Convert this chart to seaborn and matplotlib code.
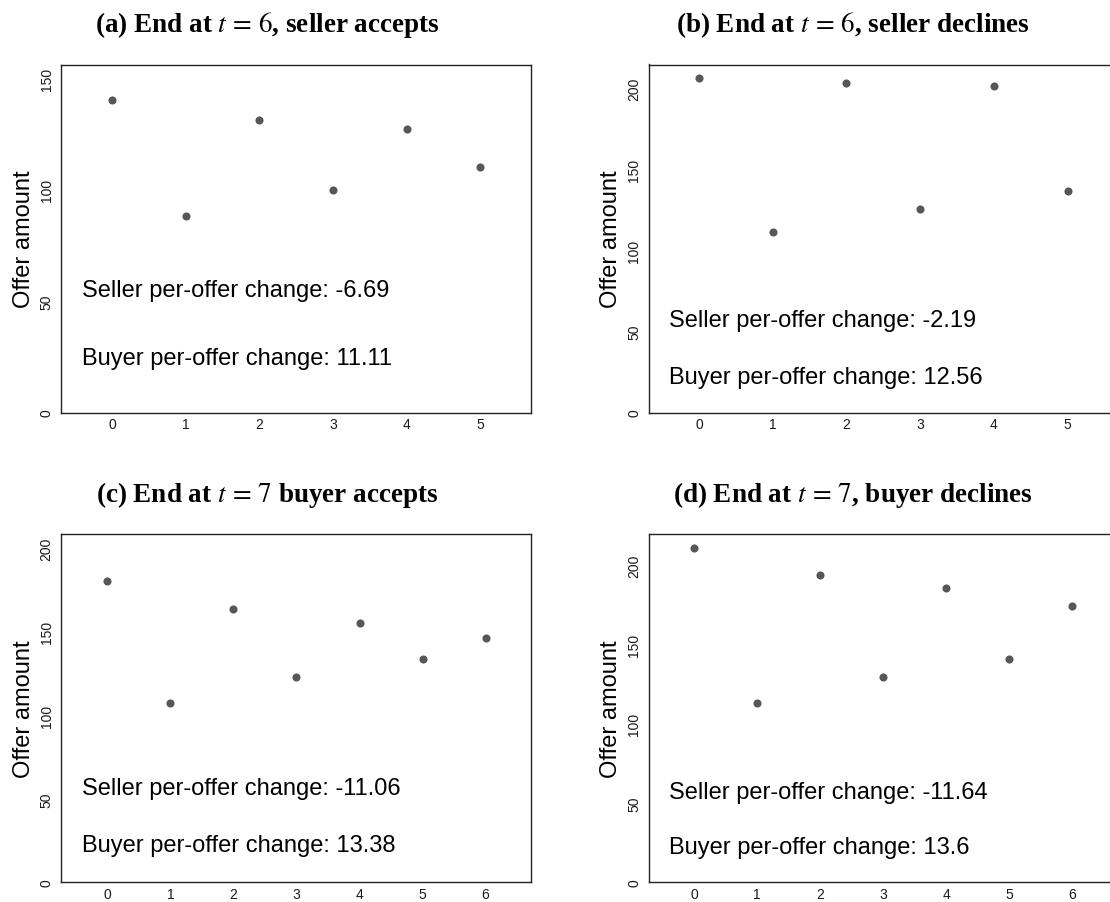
import numpy as np
import pandas as pd
import seaborn as sns
import matplotlib.pyplot as plt

sns.set_style('white')
plt.rcParams['font.family'] = ['Liberation Sans', 'DejaVu Sans']
plt.rcParams['mathtext.fontset'] = 'stix'
plt.rcParams['text.color'] = 'black'
plt.rcParams['axes.labelcolor'] = 'black'

# offer amounts (offer index 0..n-1)
offers_a = [140.4, 88.0, 131.4, 99.9, 127.1, 110.2]
offers_b = [206.0, 111.3, 203.3, 125.3, 201.6, 136.3]
offers_c = [180.2, 107.2, 163.5, 122.8, 155.3, 133.9, 146.1]
offers_d = [210.7, 113.4, 193.7, 129.5, 185.7, 140.7, 174.6]

titles = [r'(a) End at $t\,=\,6$, seller accepts',
          r'(b) End at $t\,=\,6$, seller declines',
          r'(c) End at $t\,=\,7$ buyer accepts',
          r'(d) End at $t\,=\,7$, buyer declines']
seller_change = ['-6.69', '-2.19', '-11.06', '-11.64']
buyer_change = ['11.11', '12.56', '13.38', '13.6']

# layout (pixels)
W, H = 1110, 903
ax_w, ax_h = 469.7, 348
lefts = [61.3, 648.8, 61.3, 648.8]
tops = [65.5, 65.5, 535.3, 535.3]
title_x = [267, 853, 267, 853]
title_base = [31.7, 31.7, 501.7, 501.7]
ymax = [156.2, 214.6, 208.4, 219.6]
xlims = [(-0.69, 5.69), (-0.68, 5.69), (-0.73, 6.72), (-0.72, 6.73)]
seller_y = [55, 57.3, 56.3, 56.8]
buyer_y = [24.5, 22, 22.4, 22]

fig = plt.figure(figsize=(W / 100, H / 100), dpi=100)

for i, vals in enumerate([offers_a, offers_b, offers_c, offers_d]):
    ax = fig.add_axes([lefts[i] / W, 1 - (tops[i] + ax_h) / H, ax_w / W, ax_h / H])
    df = pd.DataFrame({'offer': np.arange(len(vals)), 'amount': vals})
    sns.scatterplot(data=df, x='offer', y='amount', ax=ax, color='#575757',
                    s=34, linewidth=0)
    ax.set_xlim(*xlims[i])
    ax.set_ylim(0, ymax[i])
    ax.set_xticks(range(len(vals)))
    yt = [0, 50, 100, 150] if ymax[i] < 200 else [0, 50, 100, 150, 200]
    ax.set_yticks(yt)
    ax.tick_params(axis='x', length=0, pad=3.5, labelsize=10, labelcolor='#1a1a1a')
    ax.tick_params(axis='y', length=3, width=0.8, pad=2.5, labelsize=10,
                   labelcolor='#1a1a1a', color='#333333')
    for lbl in ax.get_yticklabels():
        lbl.set_rotation(90)
        lbl.set_va('center')
    for sp in ax.spines.values():
        sp.set_color('#222222')
        sp.set_linewidth(1.0)
    ax.set_xlabel('')
    ax.set_ylabel('Offer amount', fontsize=17, va='center')
    ax.yaxis.set_label_coords(-0.08, 0.5)
    ax.text(-0.405, seller_y[i], 'Seller per-offer change: ' + seller_change[i],
            fontsize=17, ha='left', va='center')
    ax.text(-0.405, buyer_y[i], 'Buyer per-offer change: ' + buyer_change[i],
            fontsize=17, ha='left', va='center')
    fig.text(title_x[i] / W, 1 - title_base[i] / H, titles[i], ha='center',
             va='baseline', fontsize=19.5, fontweight='bold',
             family=['Liberation Serif', 'DejaVu Serif'])

fig.savefig('out.png', dpi=100)
